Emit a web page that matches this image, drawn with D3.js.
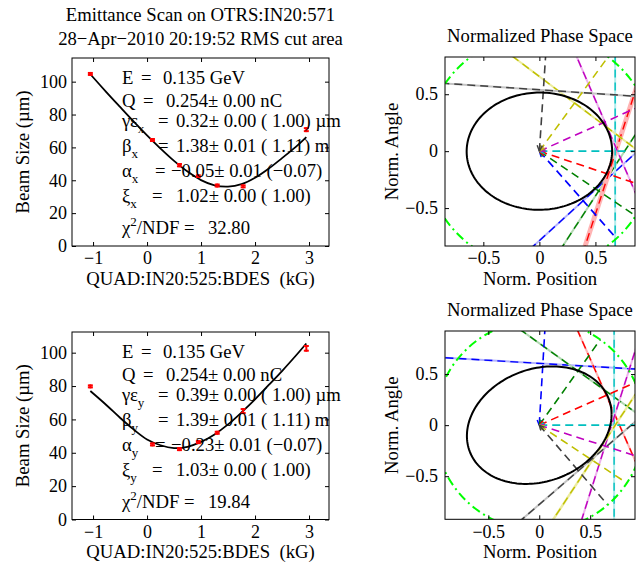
<!DOCTYPE html>
<html><head><meta charset="utf-8">
<script src="https://cdn.jsdelivr.net/npm/d3@7"></script>
<style>
body{margin:0;background:#fff}
svg{display:block}
text{font-family:"Liberation Serif","Times New Roman",serif;fill:#000}
</style></head><body>
<svg id="c" width="641" height="563"></svg>
<script>
// ---------------- data ----------------
const titleLines = ["Emittance Scan on OTRS:IN20:571", "28\u2212Apr\u22122010 20:19:52 RMS cut area"];
const quadTicks = [-1, 0, 1, 2, 3];
const sizeTicks = [0, 20, 40, 60, 80, 100];
const phaseTicks = [-0.5, 0, 0.5];
const quadDomain = [-1.39, 3.37];

// measured beam sizes (um) vs quad field (kG)
const quadK = [-1.05, 0.10, 0.60, 0.95, 1.30, 1.78, 2.95];
const sizeX = [104.7, 64.5, 49.2, 42.5, 36.8, 36.3, 70.8];
const errX  = [0.6, 0.6, 0.7, 0.5, 0.6, 0.6, 0.9];
const sizeY = [79.8, 45.0, 42.2, 46.4, 52.0, 65.0, 102.6];
const errY  = [0.6, 0.6, 0.6, 0.6, 0.6, 1.2, 1.4];

// fitted curves
const fitK = [-1.05, -0.75, -0.5, -0.25, 0, 0.25, 0.5, 0.75, 1, 1.25, 1.5, 1.75, 2, 2.25, 2.5, 2.75, 2.95];
const fitX = [104.5, 93.5, 84.6, 75.8, 67.3, 59.3, 51.8, 45.3, 40.1, 36.9, 36.1, 37.6, 41.5, 47.0, 53.5, 60.2, 66.3];
const fitY = [77.0, 68.5, 61.0, 54.0, 48.0, 44.5, 42.8, 43.6, 46.5, 51.0, 57.0, 64.2, 72.0, 80.5, 89.0, 98.0, 105.5];

// fit result annotations
const statNames = ["E", "Q", "\u03b3\u03b5", "\u03b2", "\u03b1", "\u03be"];
const statHasSub = [false, false, true, true, true, true];
const statValsX = ["0.135 GeV", "0.254\u00b1 0.00 nC", "0.32\u00b1 0.00 ( 1.00) \u00b5m", "1.38\u00b1 0.01 ( 1.11) m", "\u22120.05\u00b1 0.01 (\u22120.07)", "1.02\u00b1 0.00 ( 1.00)"];
const statValsY = ["0.135 GeV", "0.254\u00b1 0.00 nC", "0.39\u00b1 0.00 ( 1.00) \u00b5m", "1.39\u00b1 0.01 ( 1.11) m", "\u22120.23\u00b1 0.01 (\u22120.07)", "1.03\u00b1 0.00 ( 1.00)"];
const chi2X = "32.80";
const chi2Y = "19.84";

// normalized phase space: one ray/tangent per measurement
const measColors = ["#0000ff", "#008000", "#ff0000", "#00bfbf", "#bf00bf", "#bfbf00", "#404040"];
const lightColors = ["#b3b3ff", "#b3d9b3", "#ffb3b3", "#b3ecec", "#ecb3ec", "#ecec9f", "#c4c4c4"];
const thetaX = [-48.1, -33.5, -18.2, 0, 23.7, 53.5, 86.2];   // degrees
const distX  = [0.585, 0.634, 0.648, 0.676, 0.638, 0.527, 0.538];
const bandX  = [0.008, 0.008, 0.022, 0.006, 0.008, 0.008, 0.008];
const thetaY = [86.6, 54.4, 23.9, 0, -17.6, -33.4, -49.3];
const distY  = [0.604, 0.652, 0.720, 0.735, 0.677, 0.623, 0.589];
const bandY  = [0.008, 0.008, 0.010, 0.006, 0.008, 0.012, 0.008];
const ellipseX = [0.421, 0.002, 0.265];   // sigma11, sigma12, sigma22
const ellipseY = [0.504, 0.075, 0.331];
const circleR = [1.03, 1.03];
const phaseXDomX = [-0.842, 0.853], phaseYDomX = [-0.833, 0.827];
const phaseXDomY = [-0.925, 0.940], phaseYDomY = [-0.922, 0.922];

// ---------------- drawing ----------------
const svg = d3.select("#c");
const FS = 18.7;     // text size
const TFS = 18;      // tick label size
const fmt = d3.format("~g");

// title
svg.append("text").attr("x", 200.5).attr("y", 21).attr("text-anchor", "middle")
  .style("font-size", FS + "px").text(titleLines[0]);
svg.append("text").attr("x", 200.5).attr("y", 44.5).attr("text-anchor", "middle")
  .style("font-size", FS + "px").text(titleLines[1]);

function styleAxis(sel) {
  sel.select(".domain").remove();
  sel.selectAll(".tick line").attr("stroke", "#000").attr("stroke-width", 1);
  sel.selectAll(".tick text").style("font-family", '"Liberation Serif","Times New Roman",serif')
     .style("font-size", TFS + "px").attr("fill", "#000");
}

function frame(g, x, y, xt, yt, padL) {
  const [x0, x1] = x.range(), [y0, y1] = y.range();
  g.append("g").attr("transform", `translate(0,${y0})`)
    .call(d3.axisBottom(x).tickValues(xt).tickSize(-4).tickPadding(5.5).tickFormat(fmt)).call(styleAxis);
  g.append("g").attr("transform", `translate(0,${y1})`)
    .call(d3.axisTop(x).tickValues(xt).tickSize(-4).tickFormat("")).call(styleAxis);
  g.append("g").attr("transform", `translate(${x0},0)`)
    .call(d3.axisLeft(y).tickValues(yt).tickSize(-4).tickPadding(padL).tickFormat(fmt)).call(styleAxis);
  g.append("g").attr("transform", `translate(${x1},0)`)
    .call(d3.axisRight(y).tickValues(yt).tickSize(-4).tickFormat("")).call(styleAxis);
  g.append("rect").attr("x", x0).attr("y", y1).attr("width", x1 - x0).attr("height", y0 - y1)
    .attr("fill", "none").attr("stroke", "#000").attr("stroke-width", 1);
}

function fitPanel(top, bot, yMax, sizes, errs, fit, vals, chi, plane) {
  const g = svg.append("g");
  const x = d3.scaleLinear().domain(quadDomain).range([72, 329]);
  const y = d3.scaleLinear().domain([0, yMax]).range([bot, top]);
  // fit curve
  const line = d3.line().x((d, i) => x(fitK[i])).y(d => y(d)).curve(d3.curveCatmullRom);
  g.append("path").datum(fit).attr("d", line).attr("fill", "none").attr("stroke", "#000").attr("stroke-width", 1.8);
  // measured points with error bars
  const pts = g.append("g").attr("stroke", "#ff0000").attr("stroke-width", 2);
  quadK.forEach((k, i) => {
    const cx = x(k), lo = y(sizes[i] - errs[i]), hi = y(sizes[i] + errs[i]);
    pts.append("line").attr("x1", cx).attr("x2", cx).attr("y1", lo + 1).attr("y2", hi - 1);
    pts.append("line").attr("x1", cx - 2.5).attr("x2", cx + 2.5).attr("y1", lo).attr("y2", lo);
    pts.append("line").attr("x1", cx - 2.5).attr("x2", cx + 2.5).attr("y1", hi).attr("y2", hi);
  });
  frame(g, x, y, quadTicks, sizeTicks, 5);
  // labels
  g.append("text").attr("transform", `translate(29,${(top + bot) / 2}) rotate(-90)`)
    .attr("text-anchor", "middle").style("font-size", FS + "px").text("Beam Size  (\u00b5m)");
  g.append("text").attr("x", 200.5).attr("y", bot + 38.5).attr("text-anchor", "middle")
    .style("font-size", FS + "px").style("white-space", "pre").text("QUAD:IN20:525:BDES  (kG)");
  // annotations
  const base = [25.5, 48.5, 68.5, 93.5, 118.5, 143.5];
  const eqCol = [141, 143, 158, 158, 155, 152];
  const valCol = [163, 166, 176, 176, 171, 176];
  statNames.forEach((nm, i) => {
    const t = g.append("text").attr("x", 122).attr("y", top + base[i]).style("font-size", FS + "px");
    t.append("tspan").text(nm);
    let dy = 0;
    if (statHasSub[i]) { t.append("tspan").attr("dy", 6).style("font-size", "13px").text(plane); dy = -6; }
    t.append("tspan").attr("x", eqCol[i]).attr("dy", dy).text("=");
    t.append("tspan").attr("x", valCol[i]).text(vals[i]);
  });
  const c = g.append("text").attr("x", 122).attr("y", top + 175.5).style("font-size", FS + "px");
  c.append("tspan").text("\u03c7");
  c.append("tspan").attr("dy", -8).style("font-size", "13px").text("2");
  c.append("tspan").attr("dy", 8).text("/NDF");
  c.append("tspan").attr("x", 184).text("=");
  c.append("tspan").attr("x", 208).text(chi);
}

function phasePanel(id, top, bot, xd, yd, theta, dist, band, sig, R, titleY) {
  const g = svg.append("g");
  const x = d3.scaleLinear().domain(xd).range([445, 635]);
  const y = d3.scaleLinear().domain(yd).range([bot, top]);
  const sx = x(1) - x(0), sy = y(0) - y(1);
  g.append("clipPath").attr("id", id).append("rect")
    .attr("x", 445).attr("y", top).attr("width", 190).attr("height", bot - top);
  const p = g.append("g").attr("clip-path", `url(#${id})`);
  const rad = Math.PI / 180;
  // tangent lines: light band + dashed line
  theta.forEach((th, i) => {
    const ux = Math.cos(th * rad), uy = Math.sin(th * rad);
    const px = dist[i] * ux, py = dist[i] * uy, L = 3;
    const seg = [[px - L * uy, py + L * ux], [px + L * uy, py - L * ux]];
    p.append("line").attr("x1", x(seg[0][0])).attr("y1", y(seg[0][1])).attr("x2", x(seg[1][0])).attr("y2", y(seg[1][1]))
      .attr("stroke", lightColors[i]).attr("stroke-width", Math.max(2, 2 * band[i] * sx));
    p.append("line").attr("x1", x(seg[0][0])).attr("y1", y(seg[0][1])).attr("x2", x(seg[1][0])).attr("y2", y(seg[1][1]))
      .attr("stroke", measColors[i]).attr("stroke-width", 1.4).attr("stroke-dasharray", "8,5");
  });
  // rays from origin with arrowheads at origin
  theta.forEach((th, i) => {
    const ux = Math.cos(th * rad), uy = Math.sin(th * rad);
    p.append("line").attr("x1", x(0)).attr("y1", y(0)).attr("x2", x(R * ux)).attr("y2", y(R * uy))
      .attr("stroke", measColors[i]).attr("stroke-width", 1.6).attr("stroke-dasharray", "8,5");
    [-25, 25].forEach(off => {
      const a = (th + off) * rad, h = 0.055;
      p.append("line").attr("x1", x(0)).attr("y1", y(0)).attr("x2", x(h * Math.cos(a))).attr("y2", y(h * Math.sin(a)))
        .attr("stroke", measColors[i]).attr("stroke-width", 1.4);
    });
  });
  // green dash-dot circle
  p.append("ellipse").attr("cx", x(0)).attr("cy", y(0)).attr("rx", R * sx).attr("ry", R * sy)
    .attr("fill", "none").attr("stroke", "#00ff00").attr("stroke-width", 2).attr("stroke-dasharray", "9,4,2,4");
  // beam ellipse from sigma matrix (Cholesky)
  const l11 = Math.sqrt(sig[0]), l21 = sig[1] / l11, l22 = Math.sqrt(sig[2] - l21 * l21);
  const ts = d3.range(0, 2 * Math.PI + 0.01, Math.PI / 90);
  const el = d3.line().x(t => x(l11 * Math.cos(t))).y(t => y(l21 * Math.cos(t) + l22 * Math.sin(t)));
  p.append("path").datum(ts).attr("d", el).attr("fill", "none").attr("stroke", "#000").attr("stroke-width", 2);
  frame(g, x, y, phaseTicks, phaseTicks, 7);
  g.append("text").attr("x", 540).attr("y", titleY).attr("text-anchor", "middle").style("font-size", FS + "px").text("Normalized Phase Space");
  g.append("text").attr("transform", `translate(398,${(top + bot) / 2}) rotate(-90)`)
    .attr("text-anchor", "middle").style("font-size", FS + "px").text("Norm. Angle");
  g.append("text").attr("x", 540).attr("y", bot + 38.5).attr("text-anchor", "middle").style("font-size", FS + "px").text("Norm. Position");
}

fitPanel(58, 246, 114.4, sizeX, errX, fitX, statValsX, chi2X, "x");
fitPanel(332, 519.5, 112.4, sizeY, errY, fitY, statValsY, chi2Y, "y");
phasePanel("clipA", 57, 246, phaseXDomX, phaseYDomX, thetaX, distX, bandX, ellipseX, circleR[0], 42);
phasePanel("clipB", 331, 519.3, phaseXDomY, phaseYDomY, thetaY, distY, bandY, ellipseY, circleR[1], 316);
</script>
</body></html>
